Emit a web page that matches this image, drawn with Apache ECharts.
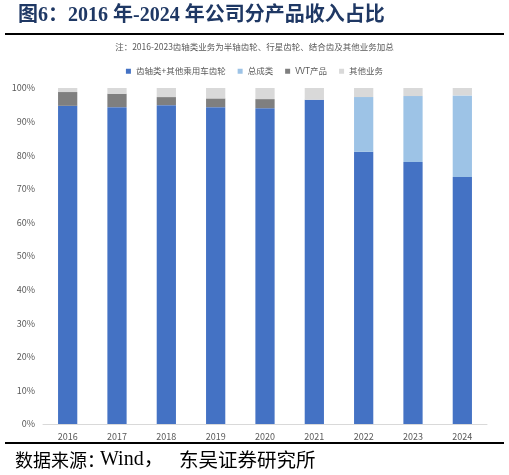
<!DOCTYPE html>
<html><head><meta charset="utf-8">
<script src="https://cdn.jsdelivr.net/npm/echarts@6/dist/echarts.min.js"></script>
<style>html,body{margin:0;padding:0;background:#fff}#c{width:509px;height:475px}</style>
</head><body><div id="c"></div>
<script>
const years = ['2016','2017','2018','2019','2020','2021','2022','2023','2024'];
const gearValues = [94.7, 94.3, 94.9, 94.3, 94.0, 96.5, 81.0, 78.0, 73.5];
const assemblyValues = [0, 0, 0, 0, 0, 0, 16.3, 19.6, 24.3];
const vvtValues = [4.1, 4.0, 2.4, 2.6, 2.7, 0, 0, 0, 0];
const otherValues = [1.2, 1.7, 2.7, 3.1, 3.3, 3.5, 2.7, 2.4, 2.2];
const seriesNames = ['齿轴类+其他乘用车齿轮', '总成类', 'VVT产品', '其他业务'];
const colors = ['#4472C4', '#9DC3E6', '#7F7F7F', '#D9D9D9'];

const chart = echarts.init(document.getElementById('c'));
const mk = (i, data) => ({
  name: seriesNames[i], type: 'bar', stack: 'total', data: data,
  barWidth: '39%', itemStyle: { color: colors[i] }
});
chart.setOption({
  animation: false,
  color: colors,
  grid: { left: 43, right: 22, top: 88, bottom: 51 },
  legend: {
    top: 62, left: 'center', itemWidth: 5, itemHeight: 5, itemGap: 12,
    icon: 'rect',
    textStyle: { fontSize: 8.5, color: '#595959', fontFamily: 'Noto Sans CJK SC' },
    data: seriesNames
  },
  xAxis: {
    type: 'category', data: years,
    axisLine: { lineStyle: { color: '#D9D9D9' } },
    axisTick: { show: false },
    axisLabel: { color: '#595959', fontSize: 9, margin: 8, fontFamily: 'Noto Sans CJK SC' }
  },
  yAxis: {
    type: 'value', min: 0, max: 100, interval: 10,
    splitLine: { show: false },
    axisLine: { show: false }, axisTick: { show: false },
    axisLabel: { formatter: '{value}%', color: '#595959', fontSize: 9, margin: 8, fontFamily: 'Noto Sans CJK SC' }
  },
  series: [mk(0, gearValues), mk(1, assemblyValues), mk(2, vvtValues), mk(3, otherValues)],
  graphic: [
    { type: 'text', left: 18, top: 6, style: {
      text: '图6：2016 年-2024 年公司分产品收入占比',
      font: 'bold 20px "Liberation Serif", "Noto Sans CJK SC"', fill: '#1F3864' } },
    { type: 'rect', shape: { x: 5, y: 33, width: 499, height: 2 }, style: { fill: '#000' } },
    { type: 'text', left: 'center', top: 43, style: {
      text: '注：2016-2023齿轴类业务为半轴齿轮、行星齿轮、结合齿及其他业务加总',
      font: '8.5px "Noto Sans CJK SC"', fill: '#595959' } },
    { type: 'rect', shape: { x: 5, y: 442, width: 499, height: 2 }, style: { fill: '#000' } },
    { type: 'text', left: 15, top: 451, style: {
      text: '数据来源：',
      font: '18px "Noto Sans CJK SC"', fill: '#000' } },
    { type: 'text', left: 100, top: 450, style: {
      text: 'Wind，',
      font: '20px "Liberation Serif", "Noto Sans CJK SC"', fill: '#000' } },
    { type: 'text', left: 179, top: 450, style: {
      text: '东吴证券研究所',
      font: '19.5px "Noto Sans CJK SC"', fill: '#000' } }
  ]
});
</script></body></html>
